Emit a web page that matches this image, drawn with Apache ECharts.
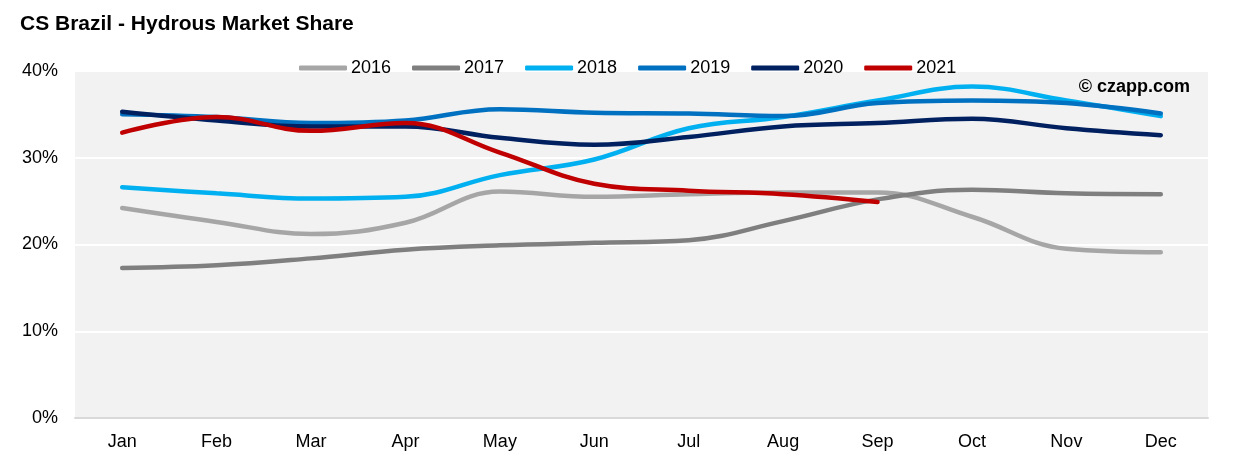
<!DOCTYPE html>
<html>
<head>
<meta charset="utf-8">
<script src="https://cdn.jsdelivr.net/npm/echarts@6/dist/echarts.min.js"></script>
<style>
html,body{margin:0;padding:0;background:#fff;}
#chart{width:1233px;height:459px;}
</style>
</head>
<body>
<div id="chart"></div>
<script>
var months = ['Jan','Feb','Mar','Apr','May','Jun','Jul','Aug','Sep','Oct','Nov','Dec'];
var years = ['2016','2017','2018','2019','2020','2021'];
var s2016 = [24.2, 22.6, 21.2, 22.5, 26.1, 25.5, 25.8, 26.0, 26.0, 23.2, 19.5, 19.1];
var s2017 = [17.3, 17.6, 18.4, 19.4, 19.9, 20.2, 20.5, 22.7, 25.2, 26.3, 25.9, 25.8];
var s2018 = [26.6, 25.9, 25.3, 25.5, 28.0, 29.8, 33.4, 34.7, 36.6, 38.2, 36.6, 34.8];
var s2019 = [35.0, 34.7, 34.0, 34.3, 35.6, 35.2, 35.1, 34.8, 36.3, 36.6, 36.3, 35.1];
var s2020 = [35.3, 34.3, 33.6, 33.6, 32.3, 31.5, 32.4, 33.6, 34.0, 34.5, 33.4, 32.6];
var s2021 = [32.9, 34.7, 33.1, 34.0, 30.6, 27.0, 26.2, 25.8, 24.9];
var yTicks = [0, 10, 20, 30, 40];
var colors = ['#a6a6a6', '#7f7f7f', '#00b0f0', '#0070c0', '#002060', '#c00000'];
var seriesData = [s2016, s2017, s2018, s2019, s2020, s2021];

var chart = echarts.init(document.getElementById('chart'));
var font = 'Liberation Sans, Arial, sans-serif';
var series = years.map(function (y, i) {
  return {
    name: y,
    type: 'line',
    data: seriesData[i],
    smooth: 0.4,
    symbol: 'none',
    lineStyle: { width: 4.5, color: colors[i], cap: 'round' },
    itemStyle: { color: colors[i] },
    z: 2 + i
  };
});

chart.setOption({
  animation: false,
  backgroundColor: '#ffffff',
  color: colors,
  title: {
    text: 'CS Brazil - Hydrous Market Share',
    left: 15,
    top: 9,
    textStyle: { fontFamily: font, fontWeight: 'bold', fontSize: 21, color: '#000' }
  },
  legend: {
    data: years,
    left: 294,
    top: 54,
    itemWidth: 48,
    itemHeight: 5,
    itemGap: 21,
    icon: 'roundRect',
    textStyle: { fontFamily: font, fontSize: 18, color: '#000', padding: [0, 0, 0, -1] }
  },
  grid: {
    left: 75,
    right: 25,
    top: 71,
    bottom: 41,
    show: true,
    backgroundColor: '#f2f2f2',
    borderWidth: 0
  },
  xAxis: {
    type: 'category',
    data: months,
    boundaryGap: true,
    axisLine: { show: true, lineStyle: { color: '#d9d9d9', width: 2 } },
    axisTick: { show: false },
    axisLabel: { fontFamily: font, fontSize: 18, color: '#000', margin: 15 }
  },
  yAxis: {
    type: 'value',
    min: yTicks[0],
    max: yTicks[yTicks.length - 1],
    interval: 10,
    axisLine: { show: false },
    axisTick: { show: false },
    splitLine: { show: true, lineStyle: { color: '#ffffff', width: 2 } },
    axisLabel: {
      fontFamily: font, fontSize: 18, color: '#000', margin: 17,
      formatter: function (v) { return v + '%'; }
    }
  },
  graphic: [{
    type: 'text',
    right: 43,
    top: 78,
    style: {
      text: '\u00a9 czapp.com',
      font: 'bold 18px Liberation Sans, Arial, sans-serif',
      fill: '#000'
    },
    z: 100
  }],
  series: series
});
</script>
</body>
</html>
